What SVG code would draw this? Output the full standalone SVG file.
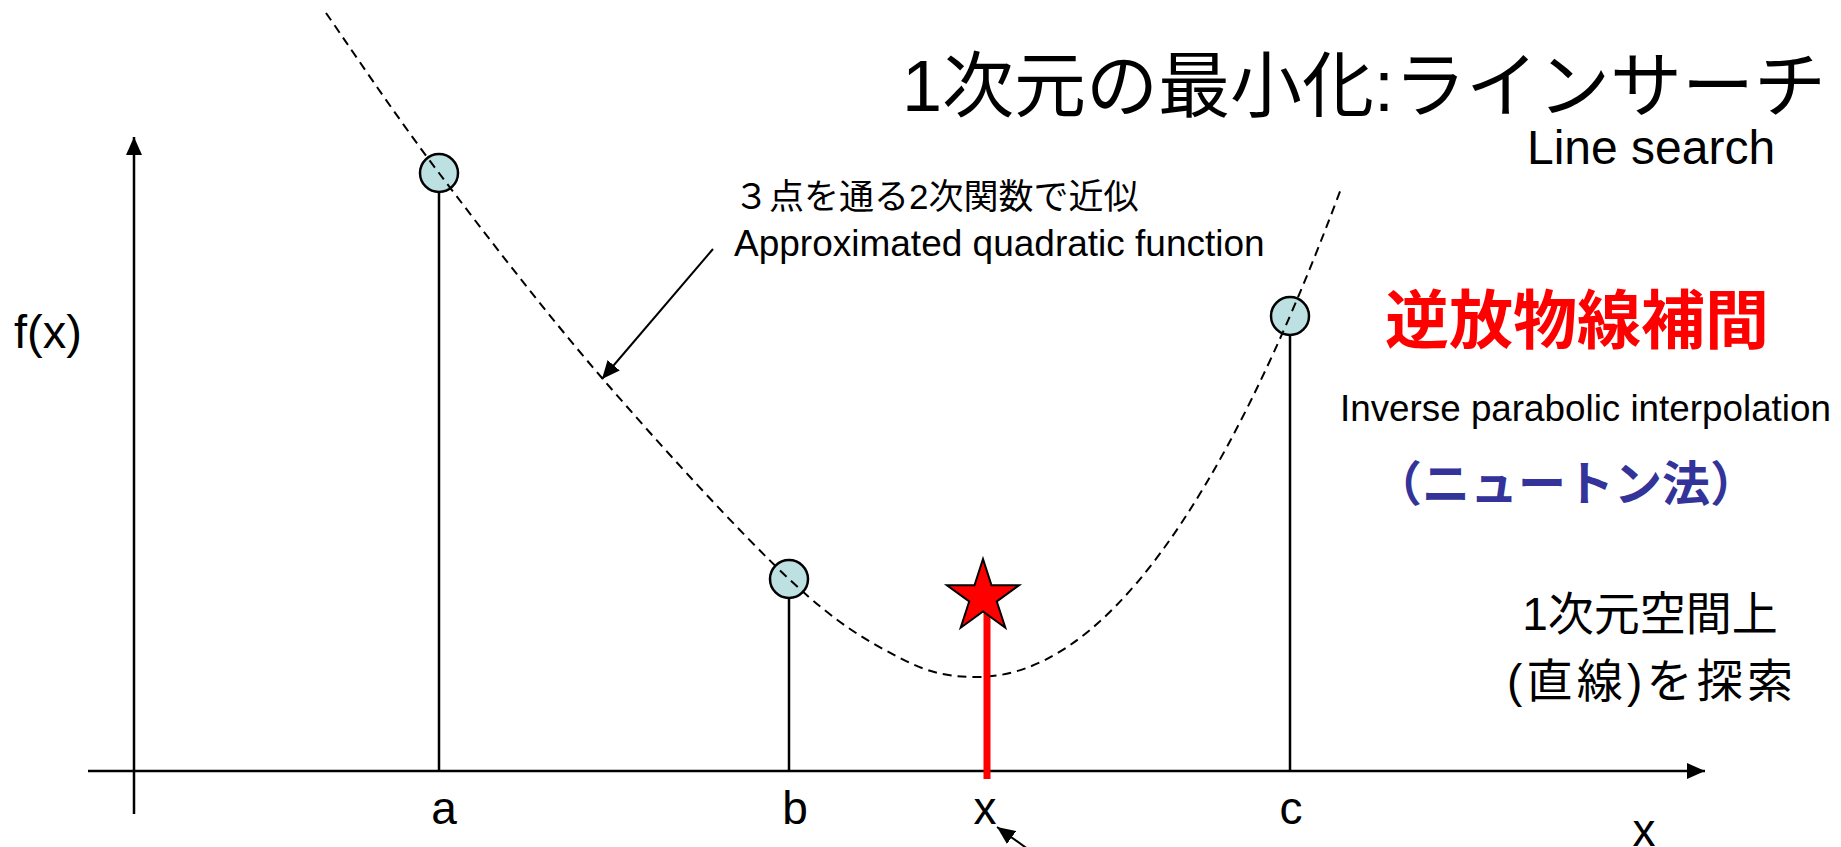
<svg xmlns="http://www.w3.org/2000/svg" width="1841" height="847" viewBox="0 0 1841 847">
<style>
.t{font-family:"Liberation Sans","Noto Sans CJK JP",sans-serif;fill:#000}
.ax{stroke:#000;stroke-width:2.5;fill:none}
.stem{stroke:#000;stroke-width:2.5}
.pt{fill:#bde0e3;stroke:#000;stroke-width:2.5}
.curve{fill:none;stroke:#000;stroke-width:2;stroke-dasharray:9,6}
.ptr{stroke:#000;stroke-width:2;fill:none}
</style>
<defs>
<marker id="ah" markerUnits="userSpaceOnUse" markerWidth="20" markerHeight="16" refX="18" refY="8" orient="auto">
<path d="M0,0 L18,8 L0,16 Z" fill="#000"/>
</marker>
</defs>
<rect width="1841" height="847" fill="#fff"/>
<g id="connectors">
<line class="ax" x1="134" y1="814" x2="134" y2="137" marker-end="url(#ah)"/>
<line class="ax" x1="88" y1="771" x2="1705" y2="771" marker-end="url(#ah)"/>
<line class="ptr" x1="713" y1="249" x2="602" y2="379" marker-end="url(#ah)"/>
<line class="ptr" x1="1032" y1="852" x2="997" y2="827" marker-end="url(#ah)"/>
</g>
<g id="stems">
<line class="stem" x1="439" y1="173" x2="439" y2="771"/>
<line class="stem" x1="789" y1="579" x2="789" y2="771"/>
<line class="stem" x1="1290" y1="316" x2="1290" y2="771"/>
</g>
<g id="point-a"><circle class="pt" cx="439" cy="173" r="19"/></g>
<g id="point-b"><circle class="pt" cx="789" cy="579" r="19"/></g>
<g id="point-c"><circle class="pt" cx="1290" cy="316" r="19"/></g>
<g id="curve">
<path class="curve" d="M326,13 C344.8,39.7 393,112.2 439,173 C485,233.8 543.7,310.3 602,378 C660.3,445.7 739.3,532.3 789,579 C838.7,625.7 868.7,641.7 900,658 C931.3,674.3 951.3,677 977,677 Q1159.5,677 1342,186"/>
</g>
<g id="minimum">
<line x1="987" y1="600" x2="987" y2="779" stroke="#f00" stroke-width="7"/>
<polygon points="983,559 991.5,585.3 1019.1,585.3 996.8,601.5 1005.3,627.7 983,611.5 960.7,627.7 969.2,601.5 946.9,585.3 974.5,585.3" fill="#f00" stroke="#000" stroke-width="2" stroke-linejoin="miter"/>
</g>
<g id="labels">
<text class="t" x="14" y="348" font-size="47">f(x)</text>
<text class="t" x="444" y="824" font-size="46" text-anchor="middle">a</text>
<text class="t" x="795" y="824" font-size="46" text-anchor="middle">b</text>
<text class="t" x="985" y="824" font-size="46" text-anchor="middle">x</text>
<text class="t" x="1291" y="824" font-size="46" text-anchor="middle">c</text>
<text class="t" x="1644" y="846" font-size="46" text-anchor="middle">x</text>
</g>
<g id="title">
<text class="t" x="1826" y="111" font-size="72" text-anchor="end">1次元の最小化:ラインサーチ</text>
<text class="t" x="1527" y="164" font-size="48">Line search</text>
</g>
<g id="annotation">
<text class="t" x="734" y="209" font-size="35">３点を通る2次関数で近似</text>
<text class="t" x="734" y="256" font-size="37">Approximated quadratic function</text>
</g>
<g id="method">
<text class="t" x="1577" y="343" font-size="64" font-weight="bold" text-anchor="middle" style="fill:#f00">逆放物線補間</text>
<text class="t" x="1340" y="421" font-size="36.8">Inverse parabolic interpolation</text>
<text class="t" x="1566" y="501" font-size="48" font-weight="bold" text-anchor="middle" style="fill:#333399">（ニュートン法）</text>
</g>
<g id="note">
<text class="t" x="1650" y="630" font-size="46" text-anchor="middle">1次元空間上</text>
<text class="t" x="1650" y="697" font-size="46" text-anchor="middle" textLength="286" lengthAdjust="spacing">(直線)を探索</text>
</g>
</svg>
